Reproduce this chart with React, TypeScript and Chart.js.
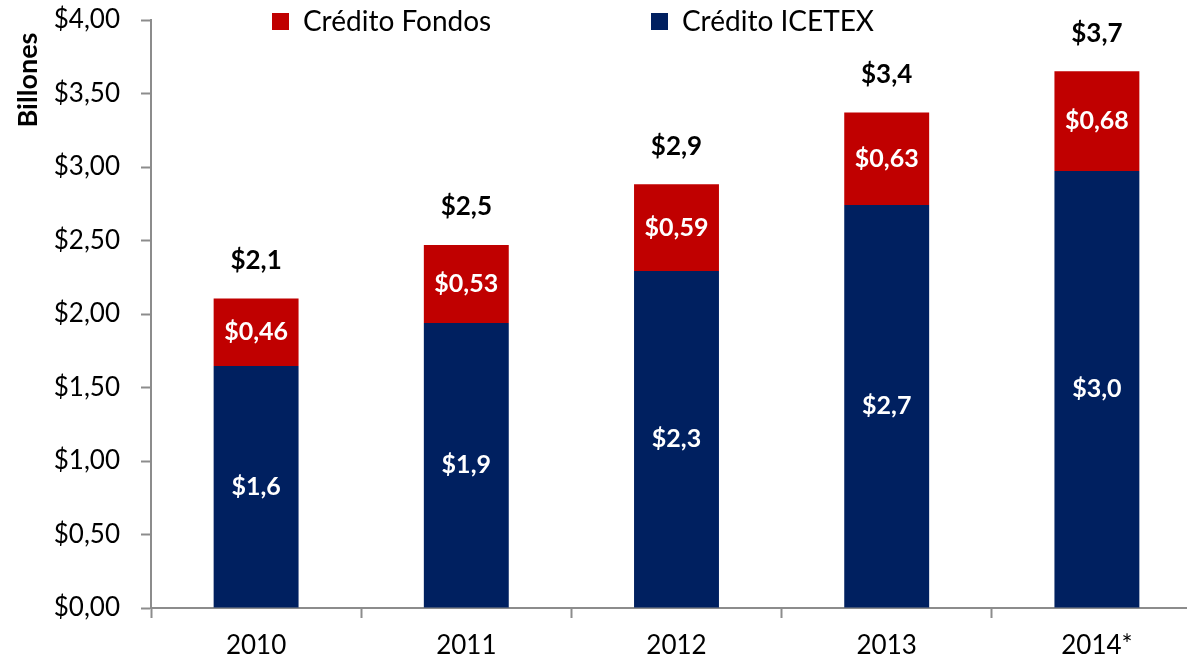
import React, { useEffect, useRef } from "react";
import { Chart, registerables } from "chart.js";

Chart.register(...registerables);

const categories = ["2010", "2011", "2012", "2013", "2014*"];
const icetexValues = [1.646, 1.939, 2.293, 2.741, 2.972];
const fondosValues = [0.46, 0.53, 0.59, 0.63, 0.68];
const seriesNames = ["Crédito ICETEX", "Crédito Fondos"];
const yTitle = "Billones";

const FONT = "Lato, 'Open Sans', sans-serif";
const RED = "#C00000";
const BLUE = "#002060";
const AXIS = "#8C8C8C";

const fmt = (v: number, d: number) => "$" + v.toFixed(d).replace(".", ",");

const labelPlugin = {
  id: "customLabels",
  afterDatasetsDraw(chart: any) {
    const ctx = chart.ctx;
    ctx.save();
    ctx.textAlign = "center";
    ctx.textBaseline = "middle";
    ctx.font = `bold 25px ${FONT}`;
    ctx.fillStyle = "#FFFFFF";
    chart.data.datasets.forEach((ds: any, di: number) => {
      const meta = chart.getDatasetMeta(di);
      meta.data.forEach((bar: any, i: number) => {
        const cy = (bar.y + bar.base) / 2;
        const decimals = di === 0 ? 1 : 2;
        ctx.fillText(fmt(ds.data[i], decimals), bar.x, cy);
      });
    });
    // totals
    const top = chart.getDatasetMeta(chart.data.datasets.length - 1);
    ctx.fillStyle = "#000000";
    ctx.font = `bold 26px ${FONT}`;
    top.data.forEach((bar: any, i: number) => {
      const total = icetexValues[i] + fondosValues[i];
      ctx.fillText(fmt(total, 1), bar.x, bar.y - 38);
    });
    ctx.restore();
  },
  afterDraw(chart: any) {
    const ctx = chart.ctx;
    const area = chart.chartArea;
    ctx.save();
    // y title
    ctx.font = `bold 27px ${FONT}`;
    ctx.fillStyle = "#000000";
    ctx.textAlign = "center";
    ctx.textBaseline = "middle";
    ctx.translate(28, 80);
    ctx.rotate(-Math.PI / 2);
    ctx.fillText(yTitle, 0, 0);
    ctx.restore();
    // legend (Fondos first, then ICETEX)
    ctx.save();
    ctx.font = `28px ${FONT}`;
    ctx.textBaseline = "middle";
    ctx.textAlign = "left";
    const items = [
      { name: seriesNames[1], color: RED, x: area.left + 121 },
      { name: seriesNames[0], color: BLUE, x: area.left + 500 },
    ];
    items.forEach((it) => {
      ctx.fillStyle = it.color;
      ctx.fillRect(it.x, 13, 17, 17);
      ctx.fillStyle = "#000000";
      ctx.fillText(it.name, it.x + 31, 22);
    });
    ctx.restore();
  },
};

export default function App() {
  const ref = useRef<HTMLCanvasElement | null>(null);
  useEffect(() => {
    if (!ref.current) return;
    const chart = new Chart(ref.current, {
      type: "bar",
      data: {
        labels: categories,
        datasets: [
          {
            label: seriesNames[0],
            data: icetexValues,
            backgroundColor: BLUE,
            barPercentage: 0.404,
            categoryPercentage: 1,
          },
          {
            label: seriesNames[1],
            data: fondosValues,
            backgroundColor: RED,
            barPercentage: 0.404,
            categoryPercentage: 1,
          },
        ],
      },
      options: {
        responsive: false,
        animation: false,
        layout: { padding: { top: 20, right: 8, left: 0, bottom: 0 } },
        plugins: {
          legend: { display: false },
          tooltip: { enabled: false },
        },
        scales: {
          x: {
            stacked: true,
            afterFit: (s: any) => {
              s.height = 54;
              s.paddingLeft = 0;
              s.paddingRight = 0;
              s.paddingTop = 0;
              s.paddingBottom = 0;
            },
            grid: {
              offset: true,
              drawOnChartArea: false,
              drawTicks: true,
              tickLength: 10,
              tickColor: AXIS,
              tickWidth: 2,
              color: AXIS,
            },
            border: { display: true, color: AXIS, width: 2 },
            ticks: {
              color: "#000000",
              font: { family: FONT, size: 26 },
              padding: 12,
              maxRotation: 0,
            },
          },
          y: {
            stacked: true,
            min: 0,
            max: 4,
            afterFit: (s: any) => {
              s.width = 151;
              s.paddingLeft = 0;
              s.paddingRight = 0;
              s.paddingTop = 0;
              s.paddingBottom = 0;
            },
            grid: {
              drawOnChartArea: false,
              drawTicks: true,
              tickLength: 10,
              tickColor: AXIS,
              tickWidth: 2,
              color: AXIS,
            },
            border: { display: true, color: AXIS, width: 2 },
            ticks: {
              stepSize: 0.5,
              color: "#000000",
              font: { family: FONT, size: 26 },
              padding: 21,
              callback: (v: any) => fmt(Number(v), 2),
            },
          },
        },
      },
      plugins: [labelPlugin],
    });
    return () => chart.destroy();
  }, []);
  return (
    <div
      style={{
        position: "fixed",
        left: 0,
        top: 0,
        width: 1187,
        height: 662,
        overflow: "hidden",
        background: "#FFFFFF",
      }}
    >
      <canvas ref={ref} width={1210} height={662} style={{ display: "block" }} />
    </div>
  );
}
